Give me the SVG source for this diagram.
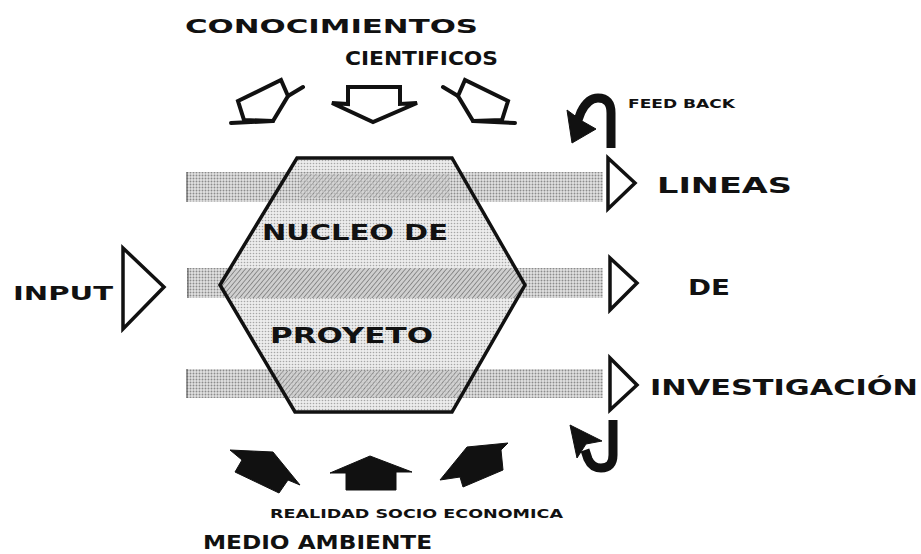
<svg xmlns="http://www.w3.org/2000/svg" width="921" height="554" viewBox="0 0 921 554">
<style>
.t{font-family:"DejaVu Sans","Liberation Sans",sans-serif;font-weight:bold;fill:#111;}
.big{font-size:20px;}
.mid{font-size:21px;}
.sm{font-size:13px;}
.tri{fill:#fff;stroke:#111;stroke-width:3.5;stroke-linejoin:miter;}
.outl{fill:#fff;stroke:#111;stroke-width:4;stroke-linejoin:miter;stroke-linecap:round;}
.ln{fill:none;stroke:#111;stroke-width:4;stroke-linecap:round;}
.blk{fill:#111;stroke:#111;stroke-width:1;}
.hook{fill:none;stroke:#111;stroke-width:9;}
</style>
<defs>
<pattern id="dots" width="3" height="3" patternUnits="userSpaceOnUse">
<rect width="3" height="3" fill="#e2e2e2"/><circle cx="1.5" cy="1.5" r="0.95" fill="#8c8c8c"/>
</pattern>
<pattern id="dotsL" width="3" height="3" patternUnits="userSpaceOnUse">
<rect width="3" height="3" fill="#ececec"/><circle cx="1.5" cy="1.5" r="0.8" fill="#a6a6a6"/>
</pattern>
<pattern id="hatch" width="3.5" height="3.5" patternUnits="userSpaceOnUse" patternTransform="rotate(40)">
<rect width="3.5" height="3.5" fill="#cfcfcf"/><line x1="0" y1="0" x2="0" y2="3.5" stroke="#6a6a6a" stroke-width="1.3"/>
</pattern>
<clipPath id="hexclip"><polygon points="297,158 452,158 525,285 452,412 295,412 220,285"/></clipPath>
</defs>
<rect width="921" height="554" fill="#fff"/>

<g id="bands">
<rect x="186" y="172" width="417" height="30" fill="url(#dots)"/>
<rect x="187" y="268" width="416" height="30" fill="url(#dots)"/>
<rect x="186" y="369" width="417" height="29" fill="url(#dots)"/>
<line x1="187" y1="172" x2="187" y2="202" stroke="#555" stroke-width="1"/>
<line x1="188" y1="268" x2="188" y2="298" stroke="#555" stroke-width="1"/>
<line x1="187" y1="369" x2="187" y2="398" stroke="#555" stroke-width="1"/>
</g>

<g id="nucleo">
<polygon points="297,158 452,158 525,285 452,412 295,412 220,285" fill="url(#dotsL)"/>
<g clip-path="url(#hexclip)">
<rect x="186" y="172" width="417" height="30" fill="url(#dots)"/>
<rect x="300" y="174" width="150" height="24" fill="url(#hatch)" opacity="0.6"/>
<rect x="186" y="268" width="417" height="30" fill="url(#hatch)"/>
<rect x="186" y="369" width="417" height="29" fill="url(#dots)"/>
<rect x="275" y="371" width="185" height="26" fill="url(#hatch)" opacity="0.8"/>
</g>
<polygon points="297,158 452,158 525,285 452,412 295,412 220,285" fill="none" stroke="#111" stroke-width="3.5" stroke-linejoin="miter"/>
<text class="t mid" x="262" y="240" textLength="186" lengthAdjust="spacingAndGlyphs">NUCLEO DE</text>
<text class="t mid" x="270" y="343" textLength="163" lengthAdjust="spacingAndGlyphs">PROYETO</text>
</g>

<g id="conocimientos">
<text class="t big" x="185" y="33" textLength="293" lengthAdjust="spacingAndGlyphs">CONOCIMIENTOS</text>
<text class="t big" x="345" y="65" textLength="153" lengthAdjust="spacingAndGlyphs">CIENTIFICOS</text>
</g>

<g id="input">
<text class="t big" x="13" y="300" textLength="100" lengthAdjust="spacingAndGlyphs">INPUT</text>
</g>

<g id="lineas">
<text class="t mid" x="657" y="193" textLength="135" lengthAdjust="spacingAndGlyphs">LINEAS</text>
<text class="t mid" x="688" y="295" textLength="42" lengthAdjust="spacingAndGlyphs">DE</text>
<text class="t mid" x="650" y="395" textLength="268" lengthAdjust="spacingAndGlyphs">INVESTIGACIÓN</text>
</g>

<g id="feedback">
<text class="t sm" x="628" y="108" textLength="107" lengthAdjust="spacingAndGlyphs">FEED BACK</text>
</g>

<g id="realidad">
<text class="t sm" x="270" y="518" textLength="293" lengthAdjust="spacingAndGlyphs">REALIDAD  SOCIO  ECONOMICA</text>
<text class="t" style="font-size:19px" x="203" y="549" textLength="229" lengthAdjust="spacingAndGlyphs">MEDIO AMBIENTE</text>
</g>

<g id="connectors">
<polygon class="tri" points="123,248 123,329 164,287"/>
<polygon class="tri" points="608,158 608,209 635,183"/>
<polygon class="tri" points="610,258 610,310 637,283"/>
<polygon class="tri" points="610,358 610,410 637,385"/>

<polygon class="outl" points="288,96 281,80 238,101 244,120 273,121"/>
<path class="ln" d="M303,87 L288,96 M273,121 L231,123"/>
<polygon class="outl" points="348,87 400,87 400,104 417,103 373,122 332,103 348,104"/>
<polygon class="outl" points="458,96 465,80 508,101 502,120 473,121"/>
<path class="ln" d="M443,87 L458,96 M473,121 L515,123"/>

<polygon class="blk" points="230,450 273,452 300,485 288,480 279,493 235,472 242,460"/>
<polygon class="blk" points="330,473 370,456 412,472 396,472 396,490 346,490 346,473"/>
<polygon class="blk" points="467,447 508,443 501,450 503,470 463,487 460,477 440,480"/>

<path class="hook" d="M611,148 L611,113 Q611,98 598,98 Q588,98 581,112 L578,120"/>
<polygon class="blk" points="572,143 567,110 582,121 596,129"/>
<path class="hook" d="M613,420 L613,455 Q613,468 601,468 Q592,468 588,459 L585,450"/>
<polygon class="blk" points="570,425 577,458 586,444 602,441"/>
</g>
</svg>
